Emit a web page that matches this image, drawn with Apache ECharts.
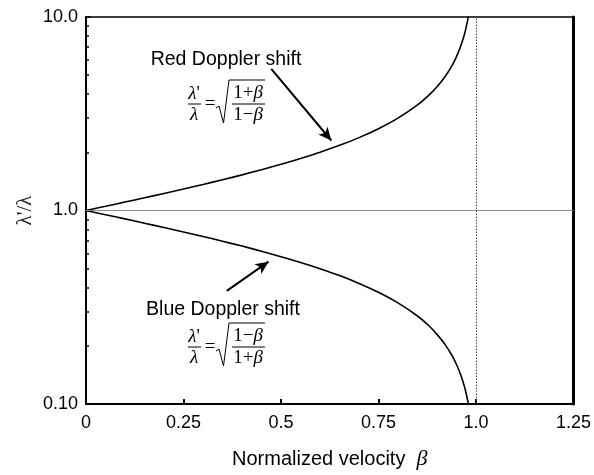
<!DOCTYPE html>
<html>
<head>
<meta charset="utf-8">
<script src="https://cdn.jsdelivr.net/npm/echarts@6/dist/echarts.min.js"></script>
<style>html,body{margin:0;padding:0;background:#fff}#c{width:594px;height:475px}</style>
</head>
<body>
<div id="c"></div>
<script>
// ---- data ----
const beta = [0, 0.05, 0.1, 0.15, 0.2, 0.25, 0.3, 0.35, 0.4, 0.45, 0.5, 0.55, 0.6, 0.65, 0.7, 0.75, 0.8, 0.85, 0.88, 0.9, 0.92, 0.94, 0.95, 0.96, 0.97, 0.975, 0.98, 0.981];
const redShift = [1.00, 1.051, 1.106, 1.163, 1.225, 1.291, 1.363, 1.441, 1.528, 1.624, 1.732, 1.856, 2.000, 2.171, 2.380, 2.646, 3.000, 3.512, 3.958, 4.359, 4.899, 5.677, 6.245, 7.000, 8.069, 8.888, 9.950, 10.21];
const blueShift = [1.00, 0.951, 0.905, 0.860, 0.816, 0.775, 0.734, 0.694, 0.655, 0.616, 0.577, 0.539, 0.500, 0.461, 0.420, 0.378, 0.333, 0.285, 0.253, 0.229, 0.204, 0.176, 0.160, 0.143, 0.124, 0.113, 0.101, 0.098];
const xTickValues = [0, 0.25, 0.5, 0.75, 1.0, 1.25];
const xTickLabels = ['0', '0.25', '0.5', '0.75', '1.0', '1.25'];
const yTickValues = [0.1, 1, 10];
const yTickLabels = ['0.10', '1.0', '10.0'];
const yMinorTicks = [0.2, 0.3, 0.4, 0.5, 0.6, 0.7, 0.8, 0.9, 2, 3, 4, 5, 6, 7, 8, 9];
// annotation arrows (data coordinates: [beta, ratio])
const redArrow = [[0.475, 5.39], [0.629, 2.30]];
const blueArrow = [[0.361, 0.384], [0.468, 0.544]];

const SANS = 'Liberation Sans, Arial, sans-serif';
const SERIF = 'Liberation Serif, Times New Roman, serif';

function fmtX(v) {
  let best = 0;
  for (let i = 0; i < xTickValues.length; i++) if (Math.abs(xTickValues[i] - v) < 1e-6) best = i;
  return xTickLabels[best];
}
function fmtY(v) {
  const k = Math.round(Math.log10(v)) + 1;
  return yTickLabels[k] !== undefined ? yTickLabels[k] : '';
}

function formula(barY, numText, denText) {
  const fs = 19;
  const rich = { i: { fontFamily: SERIF, fontStyle: 'italic', fontSize: fs, fill: '#000' } };
  const t = (x, y, text) => ({
    type: 'text', x: x, y: barY + y,
    style: { text: text, fontFamily: SERIF, fontSize: fs, fill: '#000', align: 'center', verticalAlign: 'middle', rich: rich }
  });
  return [
    t(194, -10, "{i|λ}'"),
    { type: 'line', shape: { x1: 188, y1: barY, x2: 201, y2: barY }, style: { stroke: '#000', lineWidth: 1 } },
    t(194, 11, '{i|λ}'),
    t(210, 0, '='),
    { type: 'polyline', shape: { points: [[216, barY + 4], [219, barY + 2], [223.5, barY + 19], [229, barY - 24], [265, barY - 24]] }, style: { stroke: '#000', lineWidth: 1, fill: null } },
    t(248, -11, numText),
    { type: 'line', shape: { x1: 232, y1: barY, x2: 265, y2: barY }, style: { stroke: '#000', lineWidth: 1 } },
    t(248, 11, denText)
  ];
}

const chart = echarts.init(document.getElementById('c'), null, { renderer: 'canvas' });
chart.setOption({
  animation: false,
  backgroundColor: '#fff',
  grid: { left: 86, right: 17, top: 17, bottom: 63, show: true, borderColor: '#000', borderWidth: 1.5, backgroundColor: 'transparent' },
  xAxis: {
    type: 'value', min: 0, max: 1.25, interval: 0.25,
    name: 'Normalized velocity  {b|β}', nameLocation: 'middle', nameGap: 44,
    nameTextStyle: { fontFamily: SANS, fontSize: 20, color: '#000', rich: { b: { fontFamily: SERIF, fontStyle: 'italic', fontSize: 22, color: '#000' } } },
    axisLine: { show: true, onZero: false, lineStyle: { color: '#000', width: 2 } },
    axisTick: { show: true, inside: true, length: 5, lineStyle: { color: '#000', width: 2 } },
    axisLabel: { fontFamily: SANS, fontSize: 18, color: '#000', margin: 10, formatter: fmtX },
    splitLine: { show: false }
  },
  yAxis: [{
    type: 'log', logBase: 10, min: 0.1, max: 10,
    name: "λ'/λ", nameLocation: 'middle', nameGap: 50, nameRotate: 90, nameMoveOverlap: false,
    nameTextStyle: { fontFamily: SERIF, fontSize: 21, color: '#222' },
    axisLine: { show: true, onZero: false, lineStyle: { color: '#000', width: 2 } },
    axisTick: { show: true, inside: true, length: 5, lineStyle: { color: '#000', width: 1.5 } },
    axisLabel: { fontFamily: SANS, fontSize: 18, color: '#000', margin: 8, formatter: fmtY },
    splitLine: { show: false }
  }, {
    type: 'value', min: -1, max: 1, position: 'left',
    axisLine: { show: false, onZero: false },
    axisTick: { show: true, inside: true, length: 3, lineStyle: { color: '#000', width: 1.5 }, customValues: yMinorTicks.map(v => Math.log10(v)) },
    axisLabel: { show: false },
    splitLine: { show: false }
  }, {
    type: 'value', min: -1, max: 1, position: 'right',
    axisLine: { show: true, onZero: false, lineStyle: { color: '#000', width: 3 } },
    axisTick: { show: false }, axisLabel: { show: false }, splitLine: { show: false }
  }],
  series: [{
    name: 'Red Doppler shift', type: 'line', yAxisIndex: 0,
    data: beta.map((b, i) => [b, redShift[i]]),
    showSymbol: false, smooth: 0.2, clip: true,
    lineStyle: { color: '#000', width: 1.6 },
    markLine: {
      silent: true, symbol: ['none', 'none'], label: { show: false },
      data: [
        { yAxis: 1, lineStyle: { color: '#8a8a8a', width: 1, type: 'solid' } },
        { xAxis: 1, lineStyle: { color: '#444', width: 1, type: [1.5, 1.5] } }
      ]
    }
  }, {
    name: 'Blue Doppler shift', type: 'line', yAxisIndex: 0,
    data: beta.map((b, i) => [b, blueShift[i]]),
    showSymbol: false, smooth: 0.2, clip: true,
    lineStyle: { color: '#000', width: 1.6 },
    markLine: {
      silent: true, symbol: ['none', 'arrow'], symbolSize: [9, 13], label: { show: false },
      lineStyle: { color: '#000', width: 2, type: 'solid' },
      data: [
        [{ coord: redArrow[0] }, { coord: redArrow[1] }],
        [{ coord: blueArrow[0] }, { coord: blueArrow[1] }]
      ]
    }
  }],
  graphic: [
    { type: 'text', x: 226, y: 60, style: { text: 'Red Doppler shift', fontFamily: SANS, fontSize: 19.5, fill: '#000', align: 'center', verticalAlign: 'middle' } },
    { type: 'text', x: 223, y: 310, style: { text: 'Blue Doppler shift', fontFamily: SANS, fontSize: 19.5, fill: '#000', align: 'center', verticalAlign: 'middle' } }
  ].concat(formula(104, '1+{i|β}', '1−{i|β}')).concat(formula(347, '1−{i|β}', '1+{i|β}'))
});
</script>
</body>
</html>
